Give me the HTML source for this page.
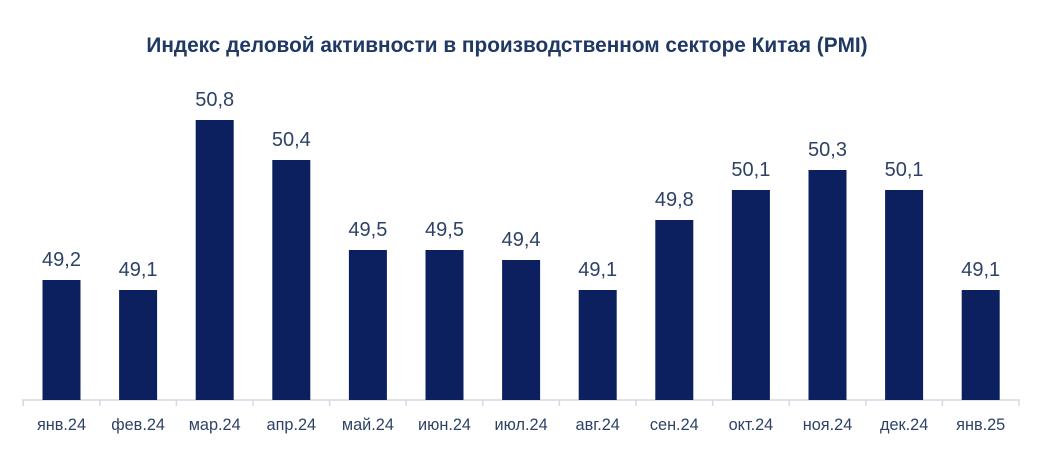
<!DOCTYPE html>
<html><head><meta charset="utf-8"><style>body{margin:0;background:#fff}svg{display:block}</style></head><body>
<svg width="1056" height="455" xmlns="http://www.w3.org/2000/svg" font-family="Liberation Sans, sans-serif">
<text x="507" y="52" text-anchor="middle" font-size="20.8" font-weight="bold" fill="#1f3864">Индекс деловой активности в производственном секторе Китая (PMI)</text>
<line x1="22" y1="400" x2="1020" y2="400" stroke="#d2dae3" stroke-width="1.5"/>
<g stroke="#d2dae3" stroke-width="1.5">
<line x1="23.2" y1="400" x2="23.2" y2="406"/><line x1="99.8" y1="400" x2="99.8" y2="406"/><line x1="176.4" y1="400" x2="176.4" y2="406"/><line x1="253" y1="400" x2="253" y2="406"/><line x1="329.6" y1="400" x2="329.6" y2="406"/><line x1="406.2" y1="400" x2="406.2" y2="406"/><line x1="482.8" y1="400" x2="482.8" y2="406"/><line x1="559.4" y1="400" x2="559.4" y2="406"/><line x1="636" y1="400" x2="636" y2="406"/><line x1="712.6" y1="400" x2="712.6" y2="406"/><line x1="789.2" y1="400" x2="789.2" y2="406"/><line x1="865.8" y1="400" x2="865.8" y2="406"/><line x1="942.4" y1="400" x2="942.4" y2="406"/><line x1="1019" y1="400" x2="1019" y2="406"/>
</g>
<g fill="#0c1f5e">
<rect x="42.5" y="280" width="38" height="120"/>
<rect x="119.1" y="290" width="38" height="110"/>
<rect x="195.7" y="120" width="38" height="280"/>
<rect x="272.3" y="160" width="38" height="240"/>
<rect x="348.9" y="250" width="38" height="150"/>
<rect x="425.5" y="250" width="38" height="150"/>
<rect x="502.1" y="260" width="38" height="140"/>
<rect x="578.7" y="290" width="38" height="110"/>
<rect x="655.3" y="220" width="38" height="180"/>
<rect x="731.9" y="190" width="38" height="210"/>
<rect x="808.5" y="170" width="38" height="230"/>
<rect x="885.1" y="190" width="38" height="210"/>
<rect x="961.7" y="290" width="38" height="110"/>
</g>
<g font-size="20" fill="#2e4266" text-anchor="middle">
<text x="61.5" y="266">49,2</text>
<text x="138.1" y="276">49,1</text>
<text x="214.7" y="106">50,8</text>
<text x="291.3" y="146">50,4</text>
<text x="367.9" y="236">49,5</text>
<text x="444.5" y="236">49,5</text>
<text x="521.1" y="246">49,4</text>
<text x="597.7" y="276">49,1</text>
<text x="674.3" y="206">49,8</text>
<text x="750.9" y="176">50,1</text>
<text x="827.5" y="156">50,3</text>
<text x="904.1" y="176">50,1</text>
<text x="980.7" y="276">49,1</text>
</g>
<g font-size="16.3" fill="#2e4266" text-anchor="middle">
<text x="61.5" y="430">янв.24</text>
<text x="138.1" y="430">фев.24</text>
<text x="214.7" y="430">мар.24</text>
<text x="291.3" y="430">апр.24</text>
<text x="367.9" y="430">май.24</text>
<text x="444.5" y="430">июн.24</text>
<text x="521.1" y="430">июл.24</text>
<text x="597.7" y="430">авг.24</text>
<text x="674.3" y="430">сен.24</text>
<text x="750.9" y="430">окт.24</text>
<text x="827.5" y="430">ноя.24</text>
<text x="904.1" y="430">дек.24</text>
<text x="980.7" y="430">янв.25</text>
</g>
</svg>
</body></html>
